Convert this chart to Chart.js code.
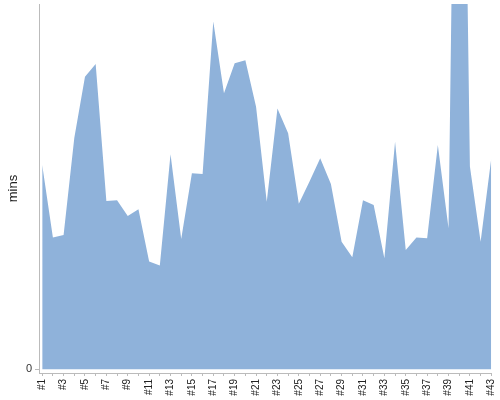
<!DOCTYPE html>
<html>
<head>
<meta charset="utf-8">
<script src="https://cdn.jsdelivr.net/npm/chart.js@4/dist/chart.umd.min.js"></script>
<style>
  html, body { margin: 0; padding: 0; background: #fff; }
  #wrap { width: 500px; height: 400px; }
</style>
</head>
<body>
<div id="wrap"><canvas id="chart" width="500" height="400"></canvas></div>
<script>
// run labels along the bottom
const runs = ['#1','#2','#3','#4','#5','#6','#7','#8','#9','#10','#11','#12','#13','#14','#15',
  '#16','#17','#18','#19','#20','#21','#22','#23','#24','#25','#26','#27','#28','#29','#30',
  '#31','#32','#33','#34','#35','#36','#37','#38','#39','#40','#41','#42','#43'];

// duration per run (mins)
const mins = [55.9, 36.1, 36.8, 63.3, 80.1, 83.6, 46.1, 46.3, 42.0, 43.8,
  29.5, 28.4, 58.9, 35.7, 53.7, 53.5, 95.2, 75.6, 83.8, 84.6,
  71.9, 45.9, 71.4, 64.6, 45.3, 51.4, 57.8, 50.7, 34.9, 30.7,
  46.3, 45.0, 30.4, 62.3, 32.7, 36.1, 35.9, 61.4, 38.6, 265,
  55.5, 34.9, 57.8];

// y range shown (the big run overflows the top)
const yMin = -1;
const yMax = 100;
const yTicks = [0];

const points = mins.map((v, i) => ({ x: i, y: v }));

new Chart(document.getElementById('chart'), {
  type: 'line',
  data: {
    datasets: [{
      label: 'mins',
      data: points,
      fill: 'origin',
      backgroundColor: '#8fb2da',
      borderColor: '#8fb2da',
      borderWidth: 0,
      pointRadius: 0,
      tension: 0,
    }],
  },
  options: {
    responsive: false,
    animation: false,
    layout: { padding: { top: 4, right: 8.7, left: 0, bottom: 0 } },
    plugins: { legend: { display: false }, tooltip: { enabled: false } },
    scales: {
      x: {
        type: 'linear',
        min: -0.3,
        max: runs.length - 1,
        afterBuildTicks: (s) => { s.ticks = runs.map((_, i) => ({ value: i })); },
        afterFit: (s) => { s.height = 27; s.paddingLeft = 0; s.paddingRight = 0; },
        ticks: {
          autoSkip: false,
          minRotation: 90,
          maxRotation: 90,
          padding: 3,
          color: '#222',
          font: { family: 'Liberation Sans', size: 10 },
          callback: (v) => (v % 2 === 0 ? runs[v] : ''),
        },
        grid: { drawOnChartArea: false, drawTicks: true, tickLength: 3, color: '#bbb' },
        border: { display: true, color: '#bbb' },
      },
      y: {
        min: yMin,
        max: yMax,
        afterBuildTicks: (s) => { s.ticks = yTicks.map(v => ({ value: v })); },
        afterFit: (s) => { s.width = 39; s.paddingTop = 0; s.paddingBottom = 0; },
        ticks: {
          padding: 3,
          color: '#333',
          font: { family: 'Liberation Sans', size: 11 },
        },
        grid: { drawOnChartArea: false, drawTicks: true, tickLength: 4, color: '#bbb' },
        border: { display: true, color: '#bbb' },
        title: {
          display: true,
          text: 'mins',
          color: '#222',
          font: { family: 'Liberation Sans', size: 13 },
          padding: { top: 6, bottom: 0 },
        },
      },
    },
  },
});
</script>
</body>
</html>
